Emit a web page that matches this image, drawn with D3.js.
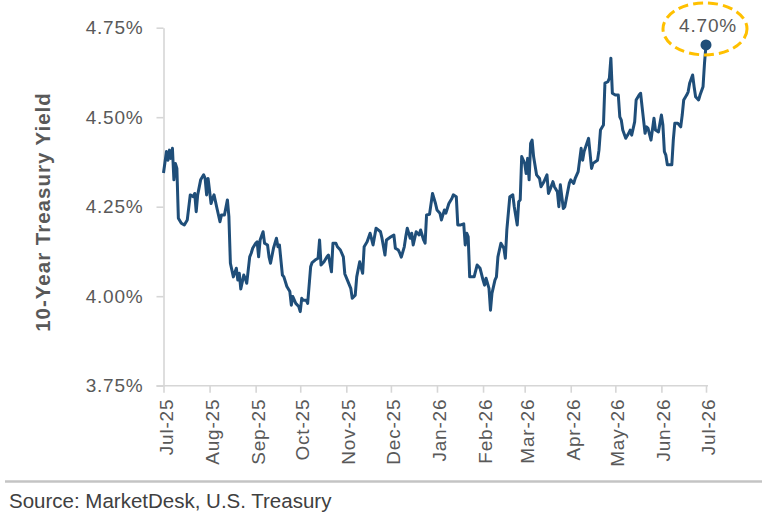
<!DOCTYPE html>
<html>
<head>
<meta charset="utf-8">
<script src="https://cdn.jsdelivr.net/npm/d3@7"></script>
<style>
  body { margin: 0; background: #fff; }
  text { font-family: 'Liberation Sans', Arial, sans-serif; }
</style>
</head>
<body>
<div id="chart"></div>
<script>
// 10-year treasury yield
const dates = [
  '2025-07-01', '2025-07-03', '2025-07-04', '2025-07-05', '2025-07-06', '2025-07-07', '2025-07-08', '2025-07-09',
  '2025-07-10', '2025-07-11', '2025-07-13', '2025-07-15', '2025-07-17', '2025-07-19', '2025-07-21', '2025-07-22',
  '2025-07-23', '2025-07-24', '2025-07-26', '2025-07-28', '2025-07-29', '2025-07-30', '2025-07-31',
  '2025-08-02', '2025-08-03', '2025-08-04', '2025-08-06', '2025-08-08', '2025-08-09', '2025-08-11', '2025-08-13',
  '2025-08-14', '2025-08-15', '2025-08-17', '2025-08-19', '2025-08-20', '2025-08-21', '2025-08-22', '2025-08-24',
  '2025-08-25', '2025-08-26', '2025-08-28', '2025-08-29', '2025-08-30',
  '2025-09-01', '2025-09-02', '2025-09-03', '2025-09-04', '2025-09-06', '2025-09-07', '2025-09-09', '2025-09-10',
  '2025-09-11', '2025-09-13', '2025-09-15', '2025-09-16', '2025-09-17', '2025-09-19', '2025-09-20', '2025-09-22',
  '2025-09-24', '2025-09-25', '2025-09-26', '2025-09-28', '2025-09-30',
  '2025-10-01', '2025-10-02', '2025-10-03', '2025-10-05', '2025-10-06', '2025-10-08', '2025-10-09', '2025-10-11',
  '2025-10-13', '2025-10-14', '2025-10-15', '2025-10-17', '2025-10-19', '2025-10-20', '2025-10-22', '2025-10-23',
  '2025-10-25', '2025-10-26', '2025-10-28', '2025-10-30', '2025-10-31',
  '2025-11-02', '2025-11-04', '2025-11-05', '2025-11-07', '2025-11-08', '2025-11-10', '2025-11-12', '2025-11-13',
  '2025-11-15', '2025-11-17', '2025-11-19', '2025-11-21', '2025-11-24', '2025-11-25', '2025-11-27', '2025-11-28',
  '2025-12-01', '2025-12-03', '2025-12-04', '2025-12-06', '2025-12-07', '2025-12-08', '2025-12-10', '2025-12-11',
  '2025-12-12', '2025-12-14', '2025-12-15', '2025-12-16', '2025-12-18', '2025-12-20', '2025-12-21', '2025-12-23',
  '2025-12-24', '2025-12-25', '2025-12-27', '2025-12-29', '2025-12-31',
  '2026-01-01', '2026-01-03', '2026-01-04', '2026-01-06', '2026-01-07', '2026-01-09', '2026-01-11', '2026-01-12',
  '2026-01-14', '2026-01-15', '2026-01-17', '2026-01-19', '2026-01-20', '2026-01-21', '2026-01-22', '2026-01-23',
  '2026-01-25', '2026-01-26', '2026-01-28', '2026-01-30',
  '2026-02-01', '2026-02-02', '2026-02-03', '2026-02-05', '2026-02-06', '2026-02-07', '2026-02-09', '2026-02-10',
  '2026-02-11', '2026-02-13', '2026-02-15', '2026-02-16', '2026-02-17', '2026-02-19', '2026-02-21', '2026-02-22',
  '2026-02-24', '2026-02-25', '2026-02-26', '2026-02-27',
  '2026-03-01', '2026-03-02', '2026-03-03', '2026-03-04', '2026-03-05', '2026-03-06', '2026-03-07', '2026-03-09',
  '2026-03-11', '2026-03-12', '2026-03-14', '2026-03-16', '2026-03-17', '2026-03-18', '2026-03-20', '2026-03-21',
  '2026-03-23', '2026-03-24', '2026-03-25', '2026-03-27', '2026-03-28', '2026-03-31',
  '2026-04-01', '2026-04-03', '2026-04-04', '2026-04-06', '2026-04-08', '2026-04-09', '2026-04-10', '2026-04-13',
  '2026-04-15', '2026-04-16', '2026-04-19', '2026-04-20', '2026-04-21', '2026-04-23', '2026-04-24', '2026-04-26',
  '2026-04-27', '2026-04-28', '2026-04-29',
  '2026-05-01', '2026-05-03', '2026-05-04', '2026-05-05', '2026-05-06', '2026-05-08', '2026-05-10', '2026-05-11',
  '2026-05-12', '2026-05-14', '2026-05-15', '2026-05-17', '2026-05-18', '2026-05-19', '2026-05-21', '2026-05-22',
  '2026-05-23', '2026-05-25', '2026-05-27', '2026-05-28', '2026-05-30',
  '2026-06-01', '2026-06-02', '2026-06-03', '2026-06-04', '2026-06-05', '2026-06-08', '2026-06-09', '2026-06-10',
  '2026-06-12', '2026-06-14', '2026-06-15', '2026-06-16', '2026-06-18', '2026-06-19', '2026-06-20', '2026-06-22',
  '2026-06-23', '2026-06-24', '2026-06-26', '2026-06-27', '2026-06-29', '2026-06-30',
  '2026-07-01'
]

const yields = [
  4.344, 4.404, 4.380, 4.408, 4.385, 4.413, 4.325, 4.371,
  4.357, 4.218, 4.204, 4.199, 4.213, 4.283, 4.278, 4.287,
  4.236, 4.283, 4.325, 4.339, 4.329, 4.283, 4.329,
  4.259, 4.273, 4.283, 4.245, 4.208, 4.227, 4.227, 4.269,
  4.222, 4.092, 4.054, 4.078, 4.045, 4.064, 4.020, 4.059,
  4.050, 4.036, 4.110, 4.120, 4.134,
  4.148, 4.152, 4.110, 4.157, 4.180, 4.148, 4.143, 4.110,
  4.092, 4.134, 4.162, 4.138, 4.143, 4.059, 4.054, 4.027,
  4.013, 3.975, 3.999, 3.980, 3.971,
  3.957, 3.994, 3.989, 3.989, 3.980, 4.082, 4.094, 4.101,
  4.106, 4.157, 4.087, 4.096, 4.110, 4.115, 4.068, 4.148,
  4.148, 4.138, 4.129, 4.110, 4.062,
  4.042, 4.022, 3.994, 4.003, 4.054, 4.096, 4.064, 4.138,
  4.152, 4.176, 4.143, 4.190, 4.180, 4.162, 4.115, 4.157,
  4.166, 4.171, 4.134, 4.129, 4.120, 4.109, 4.138, 4.166,
  4.190, 4.162, 4.176, 4.143, 4.180, 4.171, 4.185, 4.157,
  4.148, 4.227, 4.229, 4.287, 4.259,
  4.241, 4.232, 4.213, 4.241, 4.232, 4.259, 4.273, 4.283,
  4.278, 4.199, 4.199, 4.202, 4.143, 4.176, 4.166, 4.054,
  4.054, 4.054, 4.087, 4.078,
  4.045, 4.031, 4.050, 4.022, 3.961, 4.008, 4.045, 4.054,
  4.110, 4.148, 4.134, 4.106, 4.185, 4.278, 4.283, 4.250,
  4.199, 4.264, 4.269, 4.390,
  4.371, 4.343, 4.385, 4.325, 4.427, 4.436, 4.390, 4.339,
  4.329, 4.306, 4.320, 4.339, 4.287, 4.297, 4.320, 4.306,
  4.292, 4.250, 4.311, 4.245, 4.250, 4.315,
  4.325, 4.315, 4.329, 4.348, 4.413, 4.380, 4.404, 4.441,
  4.357, 4.371, 4.380, 4.408, 4.464, 4.478, 4.595, 4.599,
  4.609, 4.665, 4.567,
  4.562, 4.562, 4.501, 4.492, 4.464, 4.441, 4.455, 4.464,
  4.450, 4.487, 4.548, 4.562, 4.567, 4.529, 4.455, 4.473,
  4.469, 4.436, 4.497, 4.464, 4.459,
  4.506, 4.478, 4.404, 4.394, 4.367, 4.367, 4.436, 4.483,
  4.483, 4.473, 4.506, 4.548, 4.562, 4.571, 4.595, 4.618,
  4.585, 4.557, 4.548, 4.562, 4.585, 4.651,
  4.702
]

const yTicks = [3.75, 4.00, 4.25, 4.50, 4.75]
const monthTicks = [
  '2025-07-01', '2025-08-01', '2025-09-01', '2025-10-01', '2025-11-01', '2025-12-01', '2026-01-01',
  '2026-02-01', '2026-03-01', '2026-04-01', '2026-05-01', '2026-06-01', '2026-07-01'
]
const lastLabel = '4.70%'

const parseDate = d3.timeParse('%Y-%m-%d')
const data = dates.map(function (d, i) { return { date: parseDate(d), value: yields[i] } })

// size of the picture and the plot box
const W = 767
const H = 522
const plot = { left: 163.5, right: 706, top: 27.7, bottom: 385.7 }

const svg = d3.select('#chart')
  .append('svg')
  .attr('width', W)
  .attr('height', H)

const x = d3.scaleTime()
  .domain([parseDate(monthTicks[0]), parseDate(monthTicks[monthTicks.length - 1])])
  .range([plot.left, plot.right])

const y = d3.scaleLinear()
  .domain([3.75, 4.75])
  .range([plot.bottom, plot.top])

const axisColor = '#d6d6d6'
const labelColor = '#595959'

// Y axis
const yAxis = svg.append('g')
  .attr('transform', 'translate(' + plot.left + ',0)')
  .call(d3.axisLeft(y)
    .tickValues(yTicks)
    .tickFormat(function (d) { return d.toFixed(2) + '%' })
    .tickSize(7)
    .tickSizeOuter(0)
    .tickPadding(13))
yAxis.select('.domain').attr('stroke', axisColor).attr('stroke-width', 1.6)
yAxis.selectAll('.tick line').attr('stroke', axisColor).attr('stroke-width', 1.6)
yAxis.selectAll('.tick text')
  .attr('fill', labelColor)
  .style('font-size', '19px')
  .style('letter-spacing', '0.8px')

// X axis with rotated month labels
const xAxis = svg.append('g')
  .attr('transform', 'translate(0,' + plot.bottom + ')')
  .call(d3.axisBottom(x)
    .tickValues(monthTicks.map(parseDate))
    .tickFormat(d3.timeFormat('%b-%y'))
    .tickSize(7)
    .tickSizeOuter(0))
xAxis.select('.domain')
  .attr('d', 'M' + (plot.left - 7) + ',0H' + (plot.right + 2))
  .attr('stroke', axisColor)
  .attr('stroke-width', 1.6)
xAxis.selectAll('.tick line').attr('stroke', axisColor).attr('stroke-width', 1.6)
xAxis.selectAll('.tick text')
  .attr('transform', 'rotate(-90)')
  .attr('text-anchor', 'end')
  .attr('x', -13)
  .attr('y', 0)
  .attr('dy', '0.45em')
  .attr('fill', labelColor)
  .style('font-size', '19px')
  .style('letter-spacing', '0.8px')

// Y axis title
svg.append('text')
  .attr('transform', 'translate(50,212) rotate(-90)')
  .attr('text-anchor', 'middle')
  .attr('fill', labelColor)
  .style('font-size', '20.5px')
  .style('font-weight', 'bold')
  .style('letter-spacing', '1px')
  .text('10-Year Treasury Yield')

// the yield line
const line = d3.line()
  .x(function (d) { return x(d.date) })
  .y(function (d) { return y(d.value) })

svg.append('path')
  .datum(data)
  .attr('fill', 'none')
  .attr('stroke', '#1f4e79')
  .attr('stroke-width', 3)
  .attr('stroke-linejoin', 'round')
  .attr('d', line)

// last point with dashed ellipse callout
const last = data[data.length - 1]
const lx = x(last.date)
const ly = y(last.value)

svg.append('circle')
  .attr('cx', lx)
  .attr('cy', ly)
  .attr('r', 5.5)
  .attr('fill', '#1f4e79')

svg.append('ellipse')
  .attr('cx', lx - 1)
  .attr('cy', ly - 16)
  .attr('rx', 42)
  .attr('ry', 26)
  .attr('fill', 'none')
  .attr('stroke', '#ffc000')
  .attr('stroke-width', 3)
  .attr('stroke-dasharray', '10,5')

svg.append('text')
  .attr('x', lx + 2)
  .attr('y', ly - 13)
  .attr('text-anchor', 'middle')
  .attr('fill', labelColor)
  .style('font-size', '19px')
  .style('letter-spacing', '0.8px')
  .text(lastLabel)

// source footer
svg.append('line')
  .attr('x1', 5)
  .attr('x2', 762)
  .attr('y1', 481.5)
  .attr('y2', 481.5)
  .attr('stroke', '#c4c4c4')
  .attr('stroke-width', 2.5)

svg.append('text')
  .attr('x', 9)
  .attr('y', 508)
  .attr('fill', '#404040')
  .style('font-size', '20.5px')
  .text('Source: MarketDesk, U.S. Treasury')
</script>
</body>
</html>
